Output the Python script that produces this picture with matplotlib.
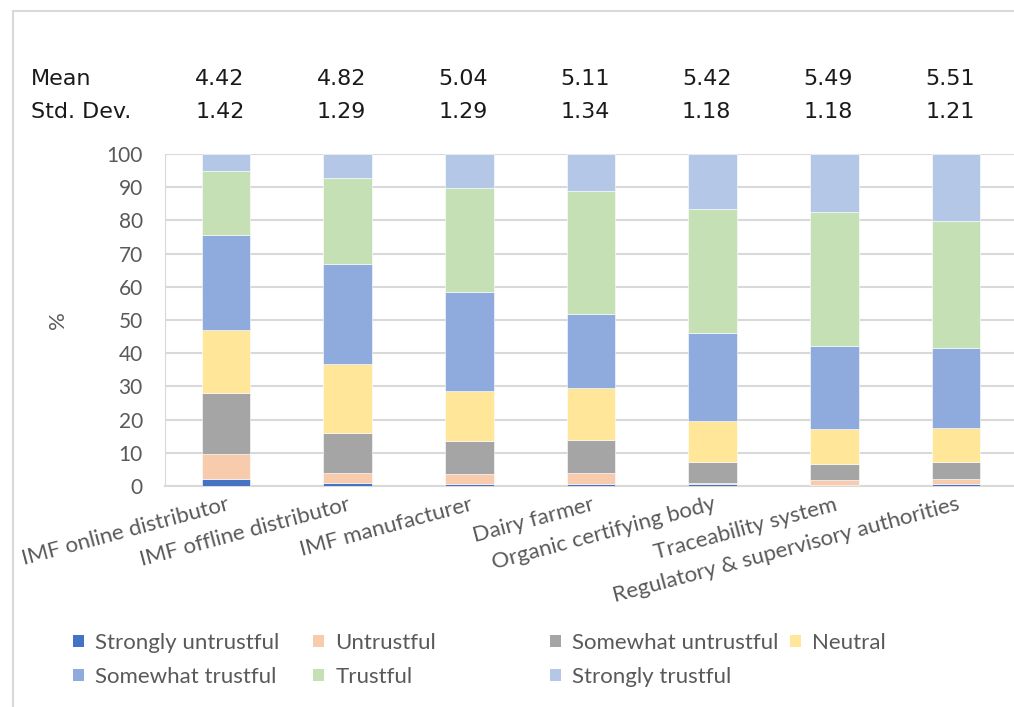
import matplotlib.pyplot as plt
import matplotlib.transforms as mtransforms
from matplotlib.patches import Rectangle, Patch
import numpy as np

plt.rcParams['font.family'] = ['Lato', 'DejaVu Sans']

# 数据
categories = ['IMF online distributor', 'IMF offline distributor', 'IMF manufacturer',
              'Dairy farmer', 'Organic certifying body', 'Traceability system',
              'Regulatory & supervisory authorities']
means = ['4.42', '4.82', '5.04', '5.11', '5.42', '5.49', '5.51']
stds = ['1.42', '1.29', '1.29', '1.34', '1.18', '1.18', '1.21']

strongly_untrustful = [2.0, 0.9, 0.6, 0.6, 0.6, 0.4, 0.5]
untrustful = [7.6, 3.1, 3.1, 3.2, 0.4, 1.4, 1.5]
somewhat_untrustful = [18.4, 12.0, 10.0, 10.1, 6.2, 4.7, 5.1]
neutral = [19.1, 20.7, 14.9, 15.6, 12.4, 10.8, 10.4]
somewhat_trustful = [28.6, 30.1, 29.8, 22.2, 26.4, 25.0, 24.0]
trustful = [19.3, 26.0, 31.5, 37.2, 37.4, 40.2, 38.3]
strongly_trustful = [5.0, 7.2, 10.1, 11.1, 16.6, 17.5, 20.2]

series_names = ['Strongly untrustful', 'Untrustful', 'Somewhat untrustful', 'Neutral',
                'Somewhat trustful', 'Trustful', 'Strongly trustful']
series_values = [strongly_untrustful, untrustful, somewhat_untrustful, neutral,
                 somewhat_trustful, trustful, strongly_trustful]
colors = ['#4472C4', '#F8CBAD', '#A5A5A5', '#FFE699', '#8FAADC', '#C5E0B4', '#B4C7E7']

W, H = 1014, 707
fig = plt.figure(figsize=(W / 100, H / 100), dpi=100)
ax = fig.add_axes([165 / W, 1 - 486 / H, 852 / W, 332 / H])

# 外框
fig.patches.append(Rectangle((13 / W, -0.1), 1.2, 1 - 11 / H + 0.1, transform=fig.transFigure,
                             fill=False, edgecolor='#D9D9D9', linewidth=1.5))

x = np.arange(len(categories))
bottom = np.zeros(len(categories))
for name, vals, c in zip(series_names, series_values, colors):
    ax.bar(x, vals, width=0.4, bottom=bottom, color=c, edgecolor='white',
           linewidth=0.4, label=name, zorder=3)
    bottom += np.array(vals)

ax.set_xlim(-0.5, len(categories) - 0.5)
ax.set_ylim(0, 100)
ax.set_yticks(range(0, 101, 10))
ax.grid(axis='y', color='#D9D9D9', linewidth=1.5, zorder=0)
for s in ['top', 'right']:
    ax.spines[s].set_visible(False)
ax.spines['left'].set_color('#D9D9D9')
ax.spines['bottom'].set_color('#D9D9D9')
ax.spines['bottom'].set_linewidth(1.5)
ax.tick_params(axis='y', length=0, pad=16, labelsize=15, labelcolor='#595959')
ax.tick_params(axis='x', length=0, pad=6)
ax.set_xticks(x)
ax.set_xticklabels(categories, rotation=15, ha='right', va='top',
                   rotation_mode='anchor', fontsize=16, color='#595959')
ax.set_ylabel('%', fontsize=16, color='#595959')
ax.yaxis.set_label_coords((68 - 165) / 852, 0.5)

# 均值和标准差
stat_font = dict(fontsize=16, color='#1a1a1a', family='DejaVu Sans', va='center')
trans = mtransforms.blended_transform_factory(ax.transData, fig.transFigure)
fig.text(31 / W, 1 - 79 / H, 'Mean', **stat_font)
fig.text(31 / W, 1 - 112 / H, 'Std. Dev.', **stat_font)
for i in range(len(categories)):
    ax.text(x[i] - 0.05, 1 - 79 / H, means[i], transform=trans, ha='center', **stat_font)
    ax.text(x[i] - 0.05, 1 - 112 / H, stds[i], transform=trans, ha='center', **stat_font)

# 图例：按列分别放置
handles = [Patch(facecolor=c, edgecolor='none') for c in colors]
col_groups = [[0, 4], [1, 5], [2, 6], [3]]
col_x = [73, 313, 550, 790]
for grp, cx in zip(col_groups, col_x):
    leg = fig.legend([handles[i] for i in grp], [series_names[i] for i in grp],
                     loc='upper left', bbox_to_anchor=(cx / W, 1 - 633 / H),
                     frameon=False, fontsize=16, handlelength=0.5, handleheight=0.5,
                     handletextpad=0.5, labelspacing=0.62, borderaxespad=0, borderpad=0)
    for t in leg.get_texts():
        t.set_color('#595959')

fig.savefig('out.png', dpi=100)
